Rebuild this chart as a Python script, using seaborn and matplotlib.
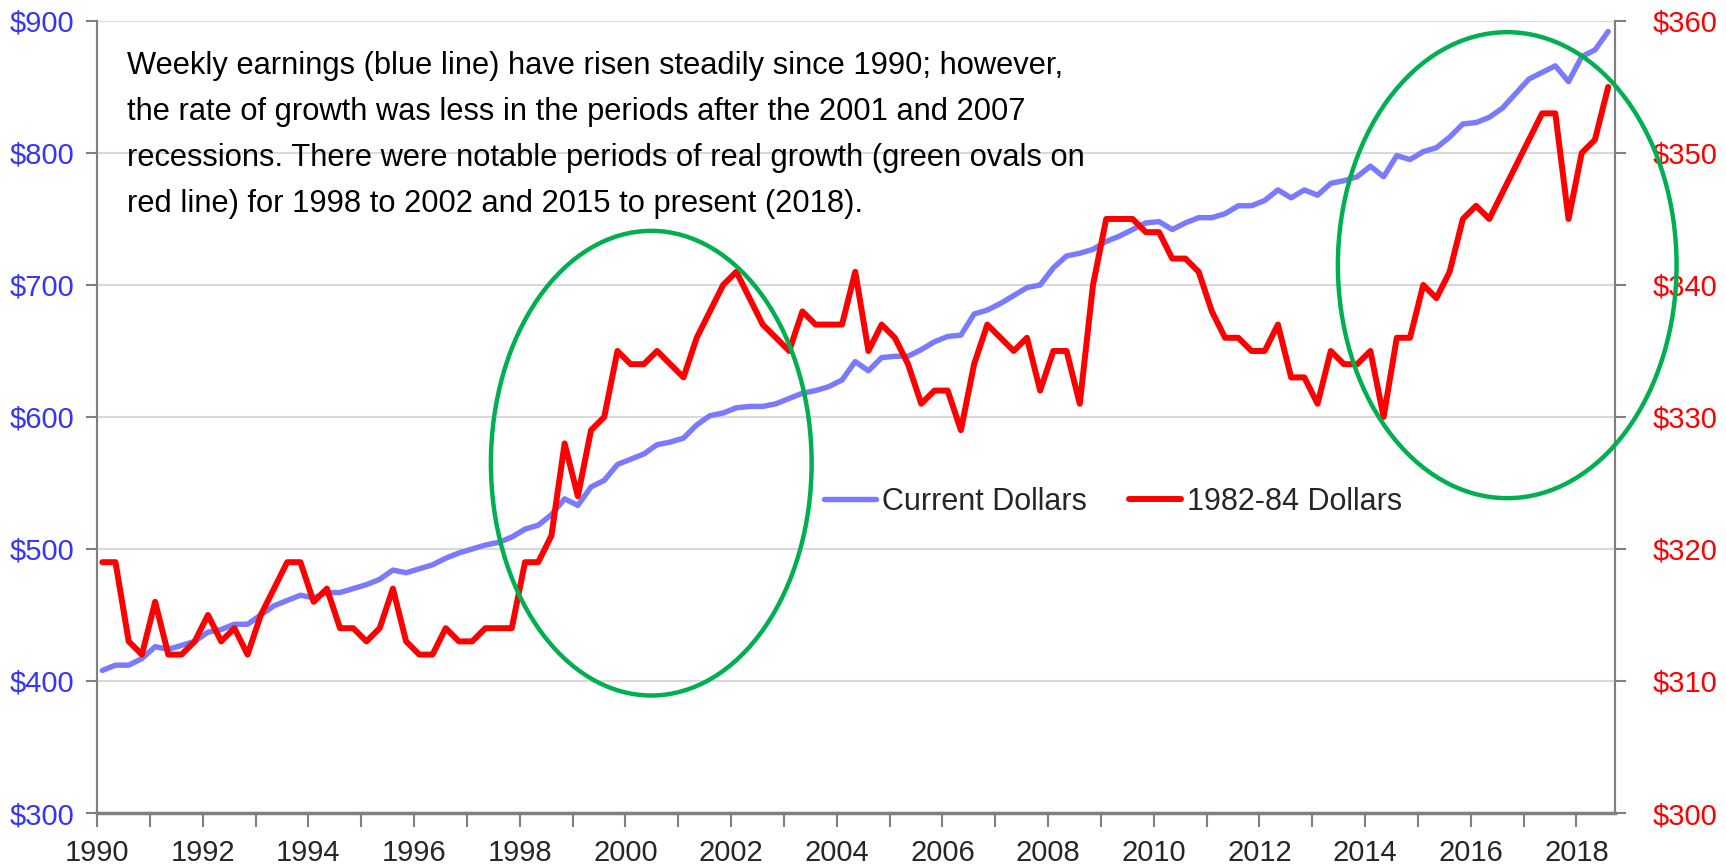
import matplotlib
matplotlib.use("Agg")
import matplotlib.pyplot as plt
from matplotlib.patches import Ellipse
import seaborn as sns
import pandas as pd
import numpy as np

# quarterly average weekly earnings, 1990Q1 - 2018Q3
quarters = pd.period_range("1990Q1", "2018Q3", freq="Q")

current_dollars = [
    408, 412, 412, 417, 426, 424, 427, 430, 437, 439, 443, 443, 450, 457, 461, 465, 463, 467,
    467, 470, 473, 477, 484, 482, 485, 488, 493, 497, 500, 503, 505, 509, 515, 518,
    526, 538, 533, 547, 552, 564, 568, 572, 579, 581, 584, 594, 601, 603, 607,
    608, 608, 610, 614, 618, 620, 623, 628, 642, 635, 645, 646, 646, 651, 657, 661, 662,
    678, 681, 686, 692, 698, 700, 713, 722, 724, 727, 733, 737, 742, 747, 748, 742, 747,
    751, 751, 754, 760, 760, 764, 772, 766, 772, 768, 777, 779, 782, 790, 782,
    798, 795, 801, 804, 812, 822, 823, 827, 834, 845, 856, 861, 866, 854, 873, 878, 892,
]

# 1982-84 dollars; a few quarters are missing in the source (line just connects across)
real_dollars = [
    319, 319, 313, 312, 316, 312, 312, 313, 315, 313, 314, 312, 315, 317, 319, 319, 316, 317,
    314, 314, 313, 314, 317, 313, 312, 312, 314, 313, 313, 314, 314, 314, 319, 319,
    321, 328, 324, 329, 330, 335, 334, 334, 335, 334, 333, 336, 338, 340, 341,
    339, 337, 336, 335, 338, 337, 337, 337, 341, 335, 337, 336, 334, 331, 332, 332, 329,
    334, 337, 336, 335, 336, 332, 335, 335, 331, 340, 345, 345, 345, 344, 344, 342, 342,
    341, 338, 336, 336, 335, 335, 337, 333, 333, 331, 335, 334, 334, 335, 330,
    336, 336, 340, 339, 341, 345, 346, 345, np.nan, np.nan, np.nan, 353, 353, 345, 350, 351, 355,
]

left_ticks = [300, 400, 500, 600, 700, 800, 900]
right_ticks = [300, 310, 320, 330, 340, 350, 360]
year_ticks = list(range(1990, 2019))

note = ("Weekly earnings (blue line) have risen steadily since 1990; however,\n"
        "the rate of growth was less in the periods after the 2001 and 2007\n"
        "recessions. There were notable periods of real growth (green ovals on\n"
        "red line) for 1998 to 2002 and 2015 to present (2018).")

df = pd.DataFrame({
    "t": quarters.year + (quarters.quarter - 1) / 4 + 0.1,
    "current": current_dollars,
    "real": real_dollars,
})

BLUE = "#7A7AFF"
BLUE_TXT = "#3434FF"
RED = "#FF0000"
GREEN = "#00B050"
GRAY = "#808080"

sns.set_style("white")
plt.rcParams["font.family"] = ["Liberation Sans", "DejaVu Sans"]

fig = plt.figure(figsize=(17.26, 8.66), dpi=100)
ax = fig.add_axes([0.0562, 0.0612, 0.8795, 0.9146])
ax2 = ax.twinx()

sns.lineplot(data=df, x="t", y="current", ax=ax, color=BLUE, lw=3.9, legend=False)
sns.lineplot(data=df.dropna(subset=["real"]), x="t", y="real", ax=ax2, color=RED, lw=4.3, legend=False)

ax.set_xlim(1990, 2018.73)
ax.set_ylim(left_ticks[0], left_ticks[-1])
ax2.set_ylim(right_ticks[0], right_ticks[-1])
ax.set_yticks(left_ticks)
ax.set_yticklabels([f"${v}" for v in left_ticks])
ax2.set_yticks(right_ticks)
ax2.set_yticklabels([f"${v}" for v in right_ticks])
ax.set_xticks(year_ticks)
ax.set_xticklabels([str(y) if y % 2 == 0 else "" for y in year_ticks])
ax.set_xlabel("")
ax.set_ylabel("")
ax2.set_ylabel("")

ax.yaxis.grid(True, color="#D9D9D9", lw=1.5)
ax.xaxis.grid(False)
ax2.grid(False)

for a in (ax, ax2):
    a.spines["top"].set_visible(False)
    for s in ("left", "right", "bottom"):
        a.spines[s].set_color(GRAY)
        a.spines[s].set_linewidth(1.5)
ax.spines["bottom"].set_linewidth(2.5)

ax.tick_params(axis="y", labelcolor=BLUE_TXT, labelsize=21, length=8, width=1.5,
               color=GRAY, direction="out", pad=8, left=True)
ax2.tick_params(axis="y", labelcolor=RED, labelsize=21, length=8, width=1.5,
                color=GRAY, direction="out", pad=19, right=True)
ax.tick_params(axis="x", labelsize=21, length=10, width=1.5, color=GRAY,
               direction="out", pad=9, bottom=True)

# green ovals marking periods of real growth
for cx, cy, w, h in [(2000.49, 565, 6.07, 352), (2016.69, 715, 6.41, 353)]:
    ax2.add_patch(Ellipse((cx, cy), w, h, transform=ax.transData, fill=False,
                          edgecolor=GREEN, lw=3.2, clip_on=False, zorder=5))

ax.text(0.0195, 0.962, note, transform=ax.transAxes, ha="left", va="top",
        fontsize=22.2, linespacing=1.7, color="black")

blue_line = ax.get_lines()[0]
red_line = ax2.get_lines()[0]
ax2.legend([blue_line, red_line], ["Current Dollars", "1982-84 Dollars"],
           loc="center", bbox_to_anchor=(0.6693, 0.3927), ncol=2, frameon=False,
           fontsize=22, handlelength=1.7, handletextpad=0.2, columnspacing=1.4)

fig.savefig("out.png", dpi=100)
